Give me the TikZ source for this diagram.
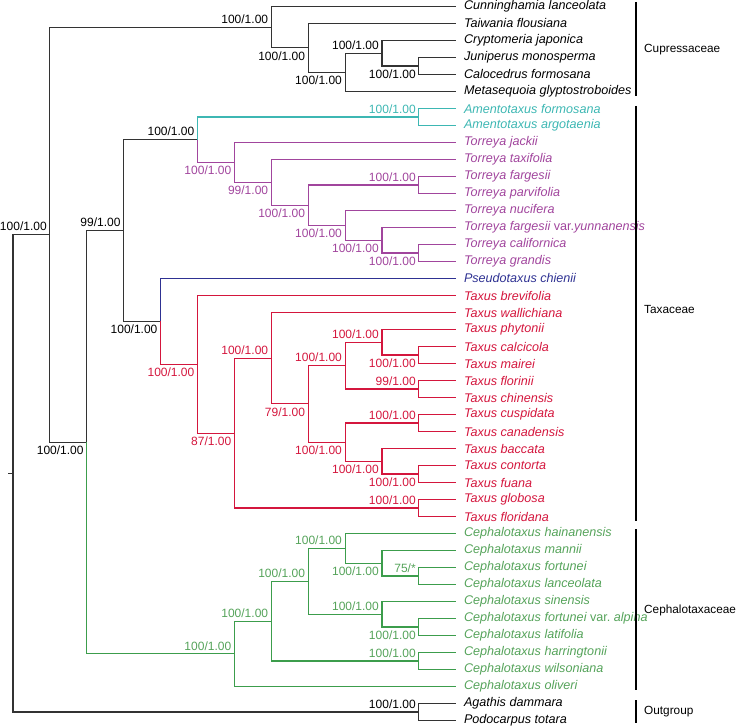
\documentclass[tikz,border=0pt]{standalone}
\usepackage{fontspec}
\setmainfont{Liberation Sans}
\definecolor{kc}{HTML}{333333}
\definecolor{cc}{HTML}{3DB7B3}
\definecolor{pc}{HTML}{A1459D}
\definecolor{bc}{HTML}{2E3192}
\definecolor{rc}{HTML}{D4163D}
\definecolor{gc}{HTML}{3C9D4C}
\definecolor{gt}{HTML}{55A35A}
\newcommand{\brE}[3]{\draw[br,#1] (#2) |- (#3);}
\begin{document}
\begin{tikzpicture}[x=1pt,y=-1pt,
  br/.style={line width=1.1pt},
  tip/.style={anchor=west, inner sep=0pt, xshift=8pt, font=\fontsize{12.6}{14}\selectfont\itshape},
  supA/.style={anchor=south east, inner sep=0pt, xshift=-3pt, yshift=3.5pt, font=\fontsize{12}{13}\selectfont},
  supB/.style={anchor=north east, inner sep=0pt, xshift=-3pt, yshift=-3.5pt, font=\fontsize{12}{13}\selectfont},
  grp/.style={anchor=west, inner sep=0pt, font=\fontsize{11.8}{14}\selectfont},
  bar/.style={line width=1.1pt, black}]
\useasboundingbox (0,0) rectangle (739,727);
% tips
\foreach \i in {1,...,43}{\coordinate (t\i) at (455.8,{6.5+17*(\i-1)});}
% internal nodes
\coordinate (nJC) at (418.9,66);
\coordinate (nCr) at (382.0,53.25);
\coordinate (nCM) at (345.1,72.38);
\coordinate (nTa) at (308.2,47.94);
\coordinate (nCu) at (271.3,27.22);
\coordinate (nAm) at (418.9,117);
\coordinate (nCG) at (418.9,253);
\coordinate (nYu) at (382.0,240.25);
\coordinate (nNu) at (345.1,225.38);
\coordinate (nFP) at (418.9,185);
\coordinate (nF4) at (308.2,205.19);
\coordinate (nTx) at (271.3,182.34);
\coordinate (nTo) at (234.4,162.42);
\coordinate (nAT) at (197.5,139.71);
\coordinate (nCM2) at (418.9,355);
\coordinate (nPh) at (382.0,342.25);
\coordinate (nFC) at (418.9,389);
\coordinate (nU3) at (345.1,365.63);
\coordinate (nCC) at (418.9,423);
\coordinate (nCF) at (418.9,474);
\coordinate (nBa) at (382.0,461.25);
\coordinate (nL3) at (345.1,442.13);
\coordinate (nT4) at (308.2,403.88);
\coordinate (nWa) at (271.3,358.19);
\coordinate (nGF) at (418.9,508);
\coordinate (nT6) at (234.4,433.09);
\coordinate (nTaxus) at (197.5,364.30);
\coordinate (nPT) at (160.6,321.40);
\coordinate (nTaxaceae) at (123.7,230.55);
\coordinate (nFL) at (418.9,576);
\coordinate (nMa) at (382.0,563.25);
\coordinate (nHa) at (345.1,548.38);
\coordinate (nAL) at (418.9,627);
\coordinate (nSi) at (382.0,614.25);
\coordinate (nC4) at (308.2,581.31);
\coordinate (nHW) at (418.9,661);
\coordinate (nC5) at (271.3,621.16);
\coordinate (nCeph) at (234.4,653.83);
\coordinate (nTC) at (86.8,442.19);
\coordinate (nIn) at (49.9,234.70);
\coordinate (nOut) at (418.9,712);
\coordinate (root) at (13.0,473.35);
\coordinate (rs) at (8.0,473.35);
% branches
\draw[br,kc] (rs) -- (root);
\brE{kc}{root}{nIn} \brE{kc}{root}{nOut}
\brE{kc}{nOut}{t42} \brE{kc}{nOut}{t43}
\brE{kc}{nIn}{nCu} \brE{kc}{nIn}{nTC}
\brE{kc}{nCu}{t1} \brE{kc}{nCu}{nTa}
\brE{kc}{nTa}{t2} \brE{kc}{nTa}{nCM}
\brE{kc}{nCM}{nCr} \brE{kc}{nCM}{t6}
\brE{kc}{nCr}{t3} \brE{kc}{nCr}{nJC}
\brE{kc}{nJC}{t4} \brE{kc}{nJC}{t5}
\brE{kc}{nTC}{nTaxaceae} \brE{gc}{nTC}{nCeph}
\brE{kc}{nTaxaceae}{nAT} \brE{kc}{nTaxaceae}{nPT}
\brE{cc}{nAT}{nAm} \brE{pc}{nAT}{nTo}
\brE{cc}{nAm}{t7} \brE{cc}{nAm}{t8}
\brE{pc}{nTo}{t9} \brE{pc}{nTo}{nTx}
\brE{pc}{nTx}{t10} \brE{pc}{nTx}{nF4}
\brE{pc}{nF4}{nFP} \brE{pc}{nF4}{nNu}
\brE{pc}{nFP}{t11} \brE{pc}{nFP}{t12}
\brE{pc}{nNu}{t13} \brE{pc}{nNu}{nYu}
\brE{pc}{nYu}{t14} \brE{pc}{nYu}{nCG}
\brE{pc}{nCG}{t15} \brE{pc}{nCG}{t16}
\brE{bc}{nPT}{t17} \brE{rc}{nPT}{nTaxus}
\brE{rc}{nTaxus}{t18} \brE{rc}{nTaxus}{nT6}
\brE{rc}{nT6}{nWa} \brE{rc}{nT6}{nGF}
\brE{rc}{nWa}{t19} \brE{rc}{nWa}{nT4}
\brE{rc}{nT4}{nU3} \brE{rc}{nT4}{nL3}
\brE{rc}{nU3}{nPh} \brE{rc}{nU3}{nFC}
\brE{rc}{nPh}{t20} \brE{rc}{nPh}{nCM2}
\brE{rc}{nCM2}{t21} \brE{rc}{nCM2}{t22}
\brE{rc}{nFC}{t23} \brE{rc}{nFC}{t24}
\brE{rc}{nL3}{nCC} \brE{rc}{nL3}{nBa}
\brE{rc}{nCC}{t25} \brE{rc}{nCC}{t26}
\brE{rc}{nBa}{t27} \brE{rc}{nBa}{nCF}
\brE{rc}{nCF}{t28} \brE{rc}{nCF}{t29}
\brE{rc}{nGF}{t30} \brE{rc}{nGF}{t31}
\brE{gc}{nCeph}{nC5} \brE{gc}{nCeph}{t41}
\brE{gc}{nC5}{nC4} \brE{gc}{nC5}{nHW}
\brE{gc}{nC4}{nHa} \brE{gc}{nC4}{nSi}
\brE{gc}{nHa}{t32} \brE{gc}{nHa}{nMa}
\brE{gc}{nMa}{t33} \brE{gc}{nMa}{nFL}
\brE{gc}{nFL}{t34} \brE{gc}{nFL}{t35}
\brE{gc}{nSi}{t36} \brE{gc}{nSi}{nAL}
\brE{gc}{nAL}{t37} \brE{gc}{nAL}{t38}
\brE{gc}{nHW}{t39} \brE{gc}{nHW}{t40}
% support values
\node[supA] (sIn) at (nIn) {100/1.00};
\node[supB] (sTC) at (nTC) {100/1.00};
\node[supA] (sCu) at (nCu) {100/1.00};
\node[supB] (sTa) at (nTa) {100/1.00};
\node[supB] (sCM) at (nCM) {100/1.00};
\node[supA] (sCr) at (nCr) {100/1.00};
\node[supB] (sJC) at (nJC) {100/1.00};
\node[supA] (sTaxaceae) at (nTaxaceae) {99/1.00};
\node[supA] (sAT) at (nAT) {100/1.00};
\node[supA,cc] (sAm) at (nAm) {100/1.00};
\node[supB,pc] (sTo) at (nTo) {100/1.00};
\node[supB,pc] (sTx) at (nTx) {99/1.00};
\node[supB,pc] (sF4) at (nF4) {100/1.00};
\node[supA,pc] (sFP) at (nFP) {100/1.00};
\node[supB,pc] (sNu) at (nNu) {100/1.00};
\node[supB,pc] (sYu) at (nYu) {100/1.00};
\node[supB,pc] (sCG) at (nCG) {100/1.00};
\node[supB] (sPT) at (nPT) {100/1.00};
\node[supB,rc] (sTaxus) at (nTaxus) {100/1.00};
\node[supB,rc] (sT6) at (nT6) {87/1.00};
\node[supA,rc] (sWa) at (nWa) {100/1.00};
\node[supB,rc] (sT4) at (nT4) {79/1.00};
\node[supA,rc] (sU3) at (nU3) {100/1.00};
\node[supA,rc] (sPh) at (nPh) {100/1.00};
\node[supB,rc] (sCM2) at (nCM2) {100/1.00};
\node[supA,rc] (sFC) at (nFC) {99/1.00};
\node[supA,rc] (sCC) at (nCC) {100/1.00};
\node[supB,rc] (sL3) at (nL3) {100/1.00};
\node[supB,rc] (sBa) at (nBa) {100/1.00};
\node[supB,rc] (sCF) at (nCF) {100/1.00};
\node[supA,rc] (sGF) at (nGF) {100/1.00};
\node[supA,gt] (sCeph) at (nCeph) {100/1.00};
\node[supA,gt] (sC5) at (nC5) {100/1.00};
\node[supA,gt] (sC4) at (nC4) {100/1.00};
\node[supA,gt] (sHa) at (nHa) {100/1.00};
\node[supB,gt] (sMa) at (nMa) {100/1.00};
\node[supA,gt] (sFL) at (nFL) {75/*};
\node[supA,gt] (sSi) at (nSi) {100/1.00};
\node[supB,gt] (sAL) at (nAL) {100/1.00};
\node[supA,gt] (sHW) at (nHW) {100/1.00};
\node[supA] (sOut) at (nOut) {100/1.00};
% tip labels
\node[tip] (l1) at (t1) {Cunninghamia lanceolata};
\node[tip] (l2) at (t2) {Taiwania flousiana};
\node[tip] (l3) at (t3) {Cryptomeria japonica};
\node[tip] (l4) at (t4) {Juniperus monosperma};
\node[tip] (l5) at (t5) {Calocedrus formosana};
\node[tip] (l6) at (t6) {Metasequoia glyptostroboides};
\node[tip,cc] (l7) at (t7) {Amentotaxus formosana};
\node[tip,cc] (l8) at (t8) {Amentotaxus argotaenia};
\node[tip,pc] (l9) at (t9) {Torreya jackii};
\node[tip,pc] (l10) at (t10) {Torreya taxifolia};
\node[tip,pc] (l11) at (t11) {Torreya fargesii};
\node[tip,pc] (l12) at (t12) {Torreya parvifolia};
\node[tip,pc] (l13) at (t13) {Torreya nucifera};
\node[tip,pc] (l14) at (t14) {Torreya fargesii \upshape var.\itshape yunnanensis};
\node[tip,pc] (l15) at (t15) {Torreya californica};
\node[tip,pc] (l16) at (t16) {Torreya grandis};
\node[tip,bc] (l17) at (t17) {Pseudotaxus chienii};
\node[tip,rc] (l18) at (t18) {Taxus brevifolia};
\node[tip,rc] (l19) at (t19) {Taxus wallichiana};
\node[tip,rc] (l20) at (t20) {Taxus phytonii};
\node[tip,rc] (l21) at (t21) {Taxus calcicola};
\node[tip,rc] (l22) at (t22) {Taxus mairei};
\node[tip,rc] (l23) at (t23) {Taxus florinii};
\node[tip,rc] (l24) at (t24) {Taxus chinensis};
\node[tip,rc] (l25) at (t25) {Taxus cuspidata};
\node[tip,rc] (l26) at (t26) {Taxus canadensis};
\node[tip,rc] (l27) at (t27) {Taxus baccata};
\node[tip,rc] (l28) at (t28) {Taxus contorta};
\node[tip,rc] (l29) at (t29) {Taxus fuana};
\node[tip,rc] (l30) at (t30) {Taxus globosa};
\node[tip,rc] (l31) at (t31) {Taxus floridana};
\node[tip,gt] (l32) at (t32) {Cephalotaxus hainanensis};
\node[tip,gt] (l33) at (t33) {Cephalotaxus mannii};
\node[tip,gt] (l34) at (t34) {Cephalotaxus fortunei};
\node[tip,gt] (l35) at (t35) {Cephalotaxus lanceolata};
\node[tip,gt] (l36) at (t36) {Cephalotaxus sinensis};
\node[tip,gt] (l37) at (t37) {Cephalotaxus fortunei \upshape var.\itshape\ alpina};
\node[tip,gt] (l38) at (t38) {Cephalotaxus latifolia};
\node[tip,gt] (l39) at (t39) {Cephalotaxus harringtonii};
\node[tip,gt] (l40) at (t40) {Cephalotaxus wilsoniana};
\node[tip,gt] (l41) at (t41) {Cephalotaxus oliveri};
\node[tip] (l42) at (t42) {Agathis dammara};
\node[tip] (l43) at (t43) {Podocarpus totara};
% clade bars
\coordinate (b1a) at (636,2); \coordinate (b1b) at (636,96);
\coordinate (b2a) at (636,106); \coordinate (b2b) at (636,521);
\coordinate (b3a) at (636,529); \coordinate (b3b) at (636,690);
\coordinate (b4a) at (636,700); \coordinate (b4b) at (636,723);
\draw[bar] (b1a) -- (b1b);
\draw[bar] (b2a) -- (b2b);
\draw[bar] (b3a) -- (b3b);
\draw[bar] (b4a) -- (b4b);
\node[grp] (g1) at (644,50) {Cupressaceae};
\node[grp] (g2) at (644,309) {Taxaceae};
\node[grp] (g3) at (644,610) {Cephalotaxaceae};
\node[grp] (g4) at (644,712) {Outgroup};
\end{tikzpicture}
\end{document}
